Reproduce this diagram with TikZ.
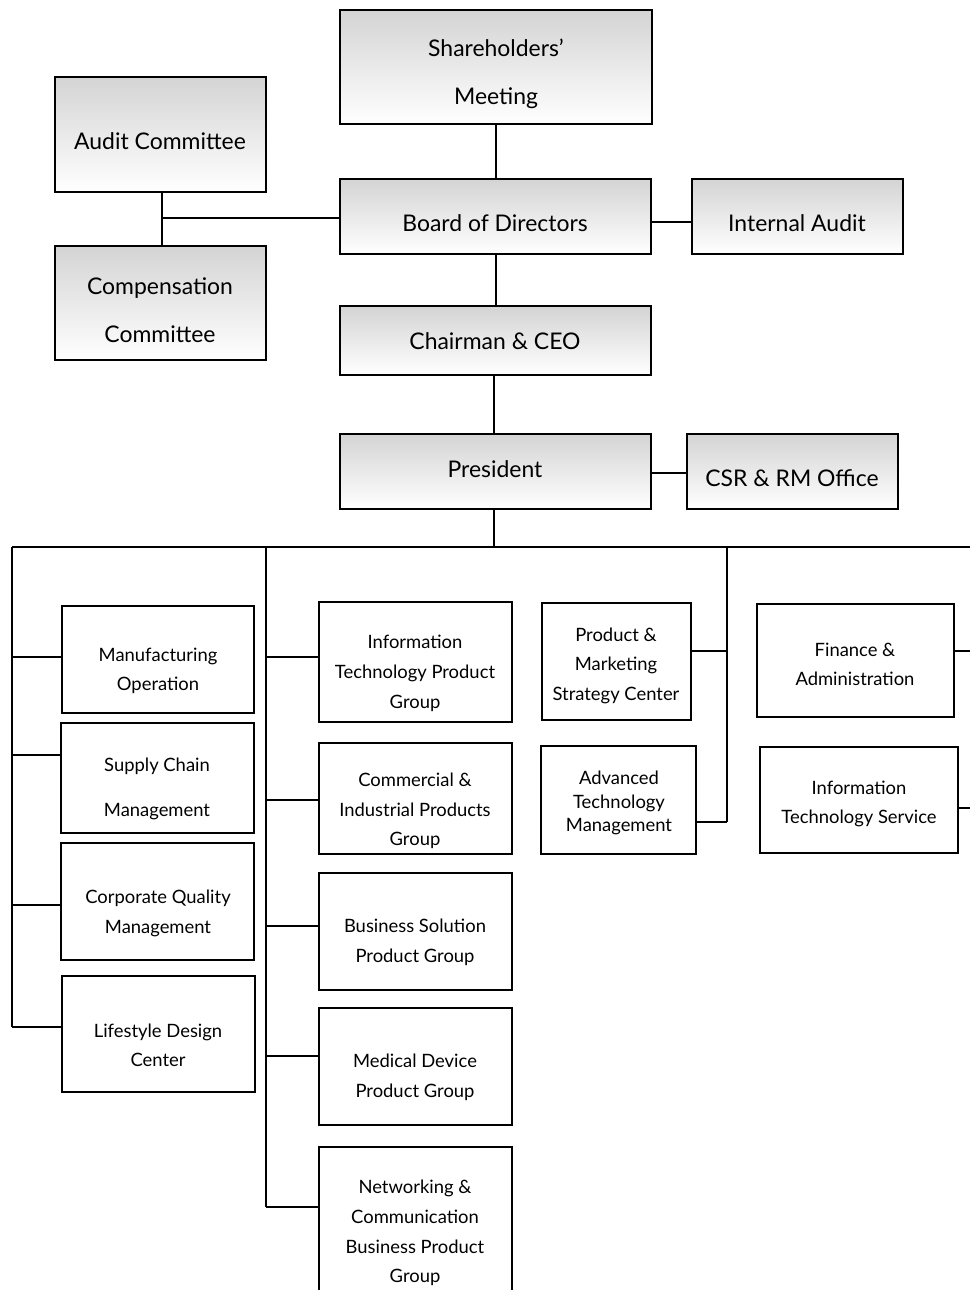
\documentclass[tikz,border=0pt]{standalone}
\usepackage{fontspec}
\setmainfont{Lato}
\usetikzlibrary{fit}
\begin{document}
\begin{tikzpicture}[x=0.75pt,y=-0.75pt,
  box/.style={draw=black, line width=1.4pt, inner sep=0pt},
  gbox/.style={box, top color=black!17, bottom color=white},
  wbox/.style={box, fill=white},
  big/.style={font=\fontsize{17.2}{36}\selectfont, align=center, inner sep=0pt, yshift=-0.3pt},
  small/.style={font=\fontsize{13.8}{#1}\selectfont, align=center, inner sep=0pt, yshift=-0.5pt},
  small/.default=22,
  link/.style={draw=black, line width=1.3pt}
]
\useasboundingbox (0,0) rectangle (970,1290);

% ---------- top boxes ----------
\node[gbox, fit={(340,10)(652,124)}] (sh) {};
\node[gbox, fit={(55,77)(266,192)}] (ac) {};
\node[gbox, fit={(340,179)(651,254)}] (bd) {};
\node[gbox, fit={(692,179)(903,254)}] (ia) {};
\node[gbox, fit={(55,246)(266,360)}] (cc) {};
\node[gbox, fit={(340,306)(651,375)}] (ceo) {};
\node[gbox, fit={(340,434)(651,509)}] (pr) {};
\node[gbox, fit={(687,434)(898,509)}] (csr) {};

\node[big] (sht) at (496,73) {Shareholders’\\Meeting};
\node[big] (act) at (160,141) {Audit Committee};
\node[big] (bdt) at (495,223) {Board of Directors};
\node[big] (iat) at (797,223) {Internal Audit};
\node[big] (cct) at (160,310) {Compensation\\Committee};
\node[big] (ceot) at (495,341) {Chairman \& CEO};
\node[big] (prt) at (495,469) {President};
\node[big] (csrt) at (792,478) {CSR \& RM Office};

% ---------- lower boxes ----------
\node[wbox, fit={(62,606)(254,713)}] (mo) {};
\node[wbox, fit={(61,723)(254,833)}] (sc) {};
\node[wbox, fit={(61,843)(254,960)}] (cq) {};
\node[wbox, fit={(62,976)(255,1092)}] (ld) {};

\node[wbox, fit={(319,602)(512,722)}] (itp) {};
\node[wbox, fit={(319,743)(512,854)}] (cip) {};
\node[wbox, fit={(319,873)(512,990)}] (bsp) {};
\node[wbox, fit={(319,1008)(512,1125)}] (mdp) {};
\node[wbox, fit={(319,1147)(512,1300)}] (ncb) {};

\node[wbox, fit={(542,603)(691,720)}] (pms) {};
\node[wbox, fit={(541,746)(696,854)}] (atm) {};

\node[wbox, fit={(757,604)(954,717)}] (fa) {};
\node[wbox, fit={(760,747)(958,853)}] (its) {};

\node[small=22] (mot) at (158,670.5) {Manufacturing\\Operation};
\node[small=34] (sct) at (157,788.5) {Supply Chain\\Management};
\node[small=22.5] (cqt) at (158,913) {Corporate Quality\\Management};
\node[small=22] (ldt) at (158,1044.5) {Lifestyle Design\\Center};

\node[small=22.5] (itpt) at (415,673) {Information\\Technology Product\\Group};
\node[small=22.2] (cipt) at (415,810.5) {Commercial \&\\Industrial Products\\Group};
\node[small=22.5] (bspt) at (415,942) {Business Solution\\Product Group};
\node[small=22.5] (mdpt) at (415,1077) {Medical Device\\Product Group};
\node[small=22.3] (ncbt) at (415,1232.5) {Networking \&\\Communication\\Business Product\\Group};

\node[small=22] (pmst) at (616,665) {Product \&\\Marketing\\Strategy Center};
\node[small=17.6] (atmt) at (619,802.5) {Advanced\\Technology\\Management};

\node[small=22] (fat) at (855,663.5) {Finance \&\\Administration};
\node[small=22] (itst) at (859,803.5) {Information\\Technology Service};

% ---------- coordinates ----------
\coordinate (prb) at (494,547);
\coordinate (hl) at (12,547);
\coordinate (hr) at (970,547);
\coordinate (lb) at (12,1027);
\coordinate (mt) at (266,547);
\coordinate (mb) at (266,1207);
\coordinate (rt) at (727,547);
\coordinate (rb) at (727,822);
\coordinate (acj) at (162,218);
\coordinate (fae) at (970,651);
\coordinate (itse) at (970,808);

% ---------- connectors ----------
\draw[link] (sh.south -| 496,0) -- (bd.north -| 496,0);
\draw[link] (ac.south -| acj) -- (cc.north -| acj);
\draw[link] (acj) -- (acj -| bd.west);
\draw[link] (bd.east |- 0,222) -- (ia.west |- 0,222);
\draw[link] (bd.south -| 496,0) -- (ceo.north -| 496,0);
\draw[link] (ceo.south -| 494,0) -- (pr.north -| 494,0);
\draw[link] (pr.east |- 0,473) -- (csr.west |- 0,473);
\draw[link] (pr.south -| prb) -- (prb);
\draw[link] (hl) -- (hr);
\draw[link] (hl) -- (lb);
\draw[link] (mt) -- (mb);
\draw[link] (rt) -- (rb);

\draw[link] (hl |- 0,657) -- (mo.west |- 0,657);
\draw[link] (hl |- 0,755) -- (sc.west |- 0,755);
\draw[link] (hl |- 0,905) -- (cq.west |- 0,905);
\draw[link] (lb) -- (lb -| ld.west);

\draw[link] (mt |- 0,657) -- (itp.west |- 0,657);
\draw[link] (mt |- 0,800) -- (cip.west |- 0,800);
\draw[link] (mt |- 0,926) -- (bsp.west |- 0,926);
\draw[link] (mt |- 0,1056) -- (mdp.west |- 0,1056);
\draw[link] (mb) -- (mb -| ncb.west);

\draw[link] (pms.east |- 0,651) -- (rt |- 0,651);
\draw[link] (atm.east |- rb) -- (rb);

\draw[link] (fa.east |- fae) -- (fae);
\draw[link] (its.east |- itse) -- (itse);
\end{tikzpicture}
\end{document}
